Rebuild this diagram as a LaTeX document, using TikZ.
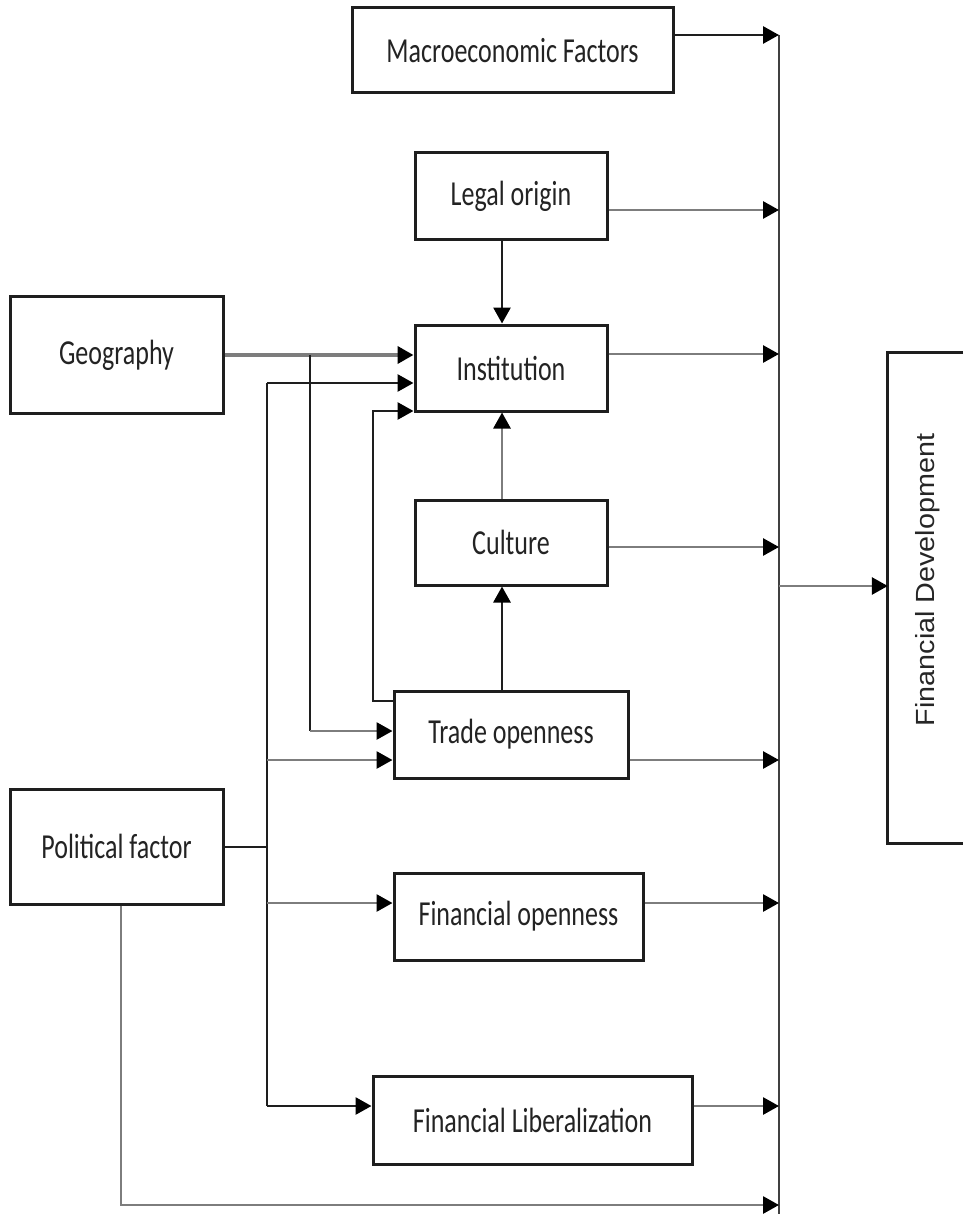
\documentclass[tikz,border=0pt]{standalone}
\usepackage{fontspec}
\setmainfont{Carlito}
\newfontfamily\arialfont{Liberation Sans}
\usetikzlibrary{arrows.meta}
\definecolor{lgray}{RGB}{125,125,125}
\definecolor{dk}{RGB}{30,30,30}
\definecolor{txt}{RGB}{35,35,35}
\newcommand{\bt}[1]{\scalebox{1}[1.35]{#1}}
\begin{document}
\begin{tikzpicture}[x=1pt,y=-1pt,
  box/.style={draw=dk,line width=3pt,inner sep=0pt,text=txt,font=\fontsize{26}{28}\selectfont},
  arr/.style={line width=2.8pt,-{Triangle[length=16pt,width=17pt,color=black]}},
  ln/.style={line width=2.6pt},
  gl/.style={draw=lgray},
  bl/.style={draw=dk}]
\useasboundingbox (0,0) rectangle (963,1214);
% boxes
\node[box,minimum width=321pt,minimum height=85pt] (macro) at (512.5,50.5) {\bt{Macroeconomic Factors}};
\node[box,minimum width=192pt,minimum height=87pt] (legal) at (511,196.5) {\bt{Legal origin}};
\node[box,minimum width=213pt,minimum height=116pt] (geo) at (116.5,355) {\bt{Geography}};
\node[box,minimum width=192pt,minimum height=86pt] (inst) at (511,368) {\bt{Institution}};
\node[box,minimum width=192pt,minimum height=85pt] (cult) at (511,542.5) {\bt{Culture}};
\node[box,minimum width=234pt,minimum height=87pt] (trade) at (511,734.5) {\bt{Trade openness}};
\node[box,minimum width=213pt,minimum height=115pt] (pol) at (116.5,846.5) {\bt{Political factor}};
\node[box,minimum width=249pt,minimum height=87pt] (fopen) at (518.5,916.5) {\bt{Financial openness}};
\node[box,minimum width=319pt,minimum height=88pt] (flib) at (532.5,1120) {\bt{Financial Liberalization}};
\node[inner sep=0pt,minimum width=75pt,minimum height=490pt] (fd) at (925.5,598) {};
\node[rotate=90,inner sep=0pt,text=black!85,font=\arialfont\fontsize{25}{28}\selectfont] (fdt) at (928,580) {\scalebox{1.15}[1.05]{Financial Development}};
\draw[draw=dk,line width=3pt] (fd.north east) -- (fd.north west) -- (fd.south west) -- (fd.south east);
% bus coordinates
\coordinate (b1) at (779,35);
\coordinate (b2) at (779,210);
\coordinate (b3) at (779,354);
\coordinate (b4) at (779,547);
\coordinate (bfd) at (779,586);
\coordinate (b5) at (779,760);
\coordinate (b6) at (779,903);
\coordinate (b7) at (779,1106);
\coordinate (b8) at (779,1205);
\coordinate (bend) at (779,1214);
\draw[ln,draw=black!75] (b1) -- (bend);
% into bus
\draw[arr,bl] (macro.east |- b1) -- (b1);
\draw[arr,gl] (legal.east |- b2) -- (b2);
\draw[arr,gl] (inst.east |- b3) -- (b3);
\draw[arr,gl] (cult.east |- b4) -- (b4);
\draw[arr,gl] (trade.east |- b5) -- (b5);
\draw[arr,gl] (fopen.east |- b6) -- (b6);
\draw[arr,gl] (flib.east |- b7) -- (b7);
\draw[arr,gl] (bfd) -- (fd.west |- bfd);
% vertical arrows
\draw[arr,bl] ([xshift=-9pt]legal.south) -- ([xshift=-9pt]inst.north);
\draw[arr,gl] ([xshift=-9pt]cult.north) -- ([xshift=-9pt]inst.south);
\draw[arr,bl] ([xshift=-9pt]trade.north) -- ([xshift=-9pt]cult.south);
% geography
\coordinate (g1) at (310,355);
\coordinate (g2) at (310,731);
\draw[arr,gl,line width=3.6pt] (geo.east |- g1) -- (inst.west |- g1);
\draw[ln,bl] (g1) -- (g2);
\draw[arr,gl] (g2) -- (trade.west |- g2);
% political
\coordinate (p0) at (267,847);
\coordinate (p1) at (267,383);
\coordinate (p2) at (267,760);
\coordinate (p3) at (267,903);
\coordinate (p4) at (267,1106);
\draw[ln,bl] (pol.east |- p0) -- (p0);
\draw[ln,bl] (p1) -- (p4);
\draw[arr,bl] (p1) -- (inst.west |- p1);
\draw[arr,gl] (p2) -- (trade.west |- p2);
\draw[arr,gl] (p3) -- (fopen.west |- p3);
\draw[arr,bl] (p4) -- (flib.west |- p4);
% trade loop
\coordinate (t1) at (373,701);
\coordinate (t2) at (373,411);
\draw[arr,bl] (trade.west |- t1) -- (t1) -- (t2) -- (inst.west |- t2);
% political bottom
\coordinate (q1) at (121,1205);
\draw[arr,gl] (pol.south -| q1) -- (q1) -- (b8);
\end{tikzpicture}
\end{document}
